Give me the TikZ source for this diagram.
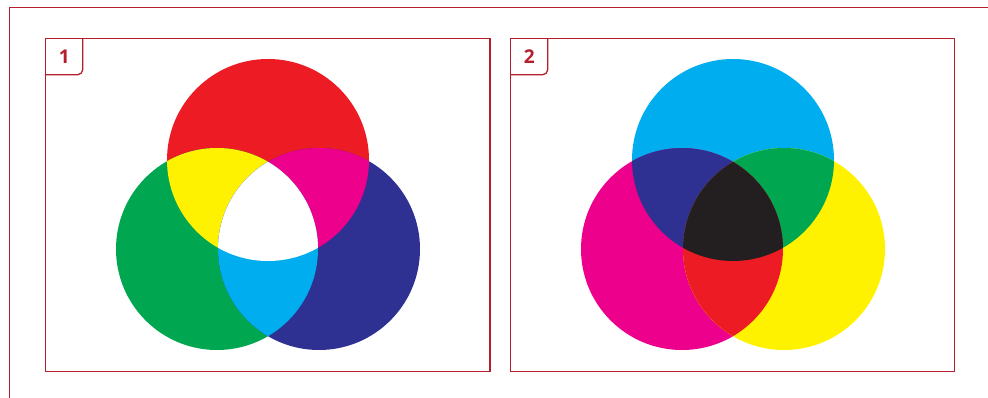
\documentclass[tikz,border=0pt]{standalone}
\usepackage{fontspec}
\setsansfont{Open Sans}
\usepackage{tikz}
\usetikzlibrary{positioning}
\definecolor{framered}{HTML}{B51F2C}
\definecolor{rgbred}{HTML}{ED1C24}
\definecolor{rgbgreen}{HTML}{00A650}
\definecolor{rgbblue}{HTML}{2E3192}
\definecolor{cmycyan}{HTML}{00AEEF}
\definecolor{cmymagenta}{HTML}{EC008C}
\definecolor{cmyyellow}{HTML}{FFF200}
\definecolor{cmyblack}{HTML}{231F20}

\begin{document}
\begin{tikzpicture}[
  x=1pt, y=-1pt,
  frame/.style={draw=framered, line width=1.3pt},
  tagnum/.style={font=\sffamily\bfseries\fontsize{19}{19}\selectfont,
    text=framered, inner sep=0pt},
  disc/.style={radius=101pt}
]
\useasboundingbox (0,0) rectangle (988,398);
\draw[frame] (9.3,398) -- (9.3,7.3) -- (988,7.3);
% additive panel
\draw[frame] (45.7,38.7) rectangle (490,371.7);
\draw[frame] (82.7,38.7) [rounded corners=5pt] -- (82.7,74.7) -- (45.7,74.7);
\node[tagnum] (num1) at (64.2,57) {1};
\coordinate (red) at (268,160);
\coordinate (green) at (217,249);
\coordinate (blue) at (319,249);
\fill[rgbred] (red) circle[disc];
\fill[rgbgreen] (green) circle[disc];
\fill[rgbblue] (blue) circle[disc];
\begin{scope}
  \clip (red) circle[disc];
  \fill[cmyyellow] (green) circle[disc];
  \fill[cmymagenta] (blue) circle[disc];
\end{scope}
\begin{scope}
  \clip (green) circle[disc];
  \fill[cmycyan] (blue) circle[disc];
  \clip (blue) circle[disc];
  \fill[white] (red) circle[disc];
\end{scope}
% subtractive panel
\draw[frame] (510.7,38.7) rectangle (954.7,371.7);
\draw[frame] (547.7,38.7) [rounded corners=5pt] -- (547.7,74.7) -- (510.7,74.7);
\node[tagnum] (num2) at (529.2,57) {2};
\coordinate (cyan) at (733,160);
\coordinate (magenta) at (682,249);
\coordinate (yellow) at (784,249);
\fill[cmycyan] (cyan) circle[disc];
\fill[cmymagenta] (magenta) circle[disc];
\fill[cmyyellow] (yellow) circle[disc];
\begin{scope}
  \clip (cyan) circle[disc];
  \fill[rgbblue] (magenta) circle[disc];
  \fill[rgbgreen] (yellow) circle[disc];
\end{scope}
\begin{scope}
  \clip (magenta) circle[disc];
  \fill[rgbred] (yellow) circle[disc];
  \clip (yellow) circle[disc];
  \fill[cmyblack] (cyan) circle[disc];
\end{scope}
\end{tikzpicture}
\end{document}
